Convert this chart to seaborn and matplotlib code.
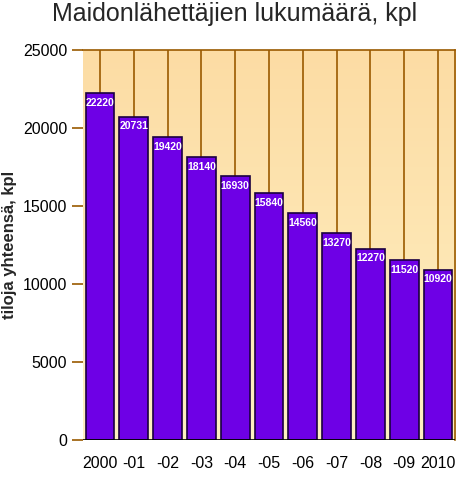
import matplotlib
matplotlib.use("Agg")
import matplotlib.pyplot as plt
import seaborn as sns
import numpy as np
import pandas as pd
from matplotlib.colors import LinearSegmentedColormap

years = ["2000", "-01", "-02", "-03", "-04", "-05", "-06", "-07", "-08", "-09", "2010"]
values = [22220, 20731, 19420, 18140, 16930, 15840, 14560, 13270, 12270, 11520, 10920]
yticks = [0, 5000, 10000, 15000, 20000, 25000]

sns.set_style("white")
plt.rcParams['font.family'] = ['Liberation Sans', 'DejaVu Sans']
fig = plt.figure(figsize=(4.69, 4.86), dpi=100)
ax = fig.add_axes([83/469, 46/486, (455-83)/469, (440-50)/486])

grad = np.linspace(0, 1, 256).reshape(-1, 1)
cmap = LinearSegmentedColormap.from_list("g", ["#FCDCA4", "#FFF0C2"])
ax.imshow(grad, aspect="auto", cmap=cmap, extent=[-0.5, 10.5, 0, 25000], origin="upper", zorder=0)
for i in range(len(years)):
    ax.axvline(i, color="#9A5A00", lw=1.2, zorder=1)

df = pd.DataFrame({"year": years, "value": values})
sns.barplot(data=df, x="year", y="value", color="#6E00E6", saturation=1, width=0.85,
            edgecolor="#1a0040", linewidth=1.2, ax=ax, zorder=2)
for i, v in enumerate(values):
    ax.text(i, v - 300, str(v), ha="center", va="top", color="white", fontsize=7.5,
            fontweight="bold", zorder=3)

ax.set_xlim(-0.5, 10.5)
ax.set_ylim(0, 25000)
ax.set_yticks(yticks)
ax.tick_params(axis="both", labelsize=11.5, labelcolor="black", length=8, width=1.2,
               color="#9A5A00", left=True, bottom=False)
ax.set_xlabel("")
ax.set_ylabel("tiloja yhteensä, kpl", fontsize=12, fontweight="bold")
for s in ["top", "right"]:
    ax.spines[s].set_color("#9A5A00")
    ax.spines[s].set_linewidth(1.2)
for s in ["left", "bottom"]:
    ax.spines[s].set_visible(False)
ax.axhline(0, color="black", lw=1.2, zorder=4)
fig.text(0.5, 0.995, "Maidonlähettäjien lukumäärä, kpl", fontsize=18, ha="center", va="top")
fig.savefig("out.png", dpi=100)
